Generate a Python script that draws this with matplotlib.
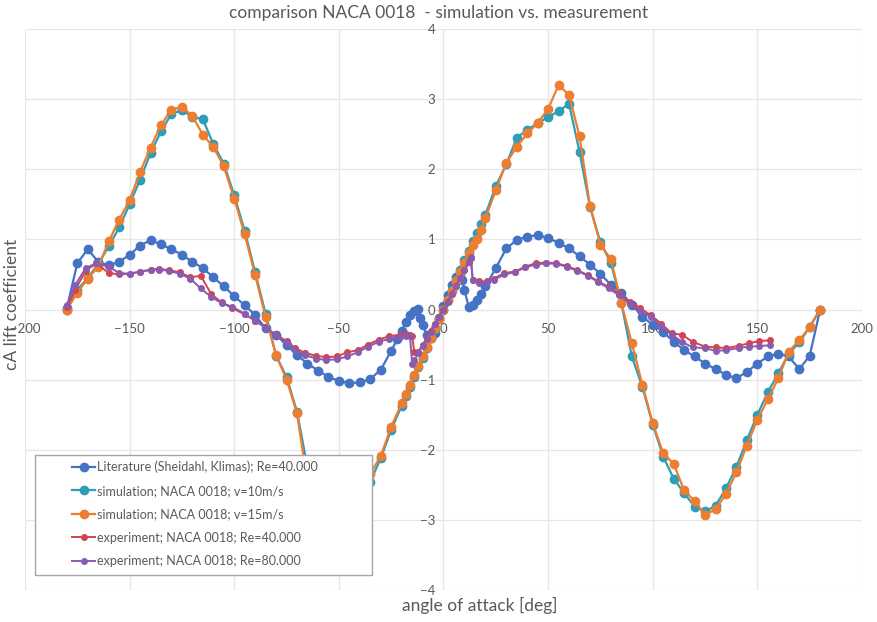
import matplotlib.pyplot as plt
from matplotlib.patches import Rectangle

# Literature (Sheidahl, Klimas); Re=40.000
lit_x = [-180, -175, -170, -165, -160, -155, -150, -145, -140, -135, -130, -125, -120, -115, -110,
         -105, -100, -95, -90, -85, -80, -75, -70, -65, -60, -55, -50, -45, -40, -35, -30, -25,
         -22, -20, -18, -16, -14, -12, -11, -10, -8, -6, -4, -2, 0, 2, 4, 6, 8, 9, 10, 12, 14,
         16, 18, 20, 25, 30, 35, 40, 45, 50, 55, 60, 65, 70, 75, 80, 85, 90, 95, 100, 105, 110,
         115, 120, 125, 130, 135, 140, 145, 150, 155, 160, 165, 170, 175, 180]
lit_y = [0.02, 0.66, 0.86, 0.68, 0.63, 0.68, 0.78, 0.91, 0.99, 0.93, 0.86, 0.78, 0.68, 0.59, 0.46,
         0.33, 0.19, 0.06, -0.08, -0.27, -0.36, -0.51, -0.65, -0.77, -0.87, -0.96, -1.02, -1.05,
         -1.04, -0.99, -0.86, -0.59, -0.42, -0.30, -0.18, -0.08, -0.02, 0.01, -0.12, -0.22, -0.36,
         -0.40, -0.33, -0.12, 0.05, 0.20, 0.35, 0.47, 0.50, 0.42, 0.28, 0.04, 0.06, 0.14, 0.22,
         0.33, 0.59, 0.87, 0.99, 1.04, 1.06, 1.02, 0.95, 0.87, 0.76, 0.64, 0.51, 0.35, 0.24, 0.07,
         -0.10, -0.22, -0.32, -0.46, -0.58, -0.67, -0.77, -0.85, -0.93, -0.98, -0.89, -0.77, -0.67,
         -0.63, -0.67, -0.85, -0.66, 0.0]

# simulations (same angles for both)
sim_x = [-180, -175, -170, -165, -160, -155, -150, -145, -140, -135, -130, -125, -120, -115, -110,
         -105, -100, -95, -90, -85, -80, -75, -70, -65, -60, -55, -50, -45, -40, -35, -30, -25,
         -20, -18, -16, -14, -12, -10, -8, -6, -4, -2, 0, 2, 4, 6, 8, 10, 12, 14, 16, 18, 20,
         25, 30, 35, 40, 45, 50, 55, 60, 65, 70, 75, 80, 85, 90, 95, 100, 105, 110, 115, 120,
         125, 130, 135, 140, 145, 150, 155, 160, 165, 170, 175, 180]
sim10_y = [0.0, 0.28, 0.45, 0.65, 0.90, 1.17, 1.50, 1.85, 2.23, 2.54, 2.79, 2.84, 2.75, 2.71, 2.36,
           2.08, 1.63, 1.12, 0.53, -0.06, -0.66, -0.96, -1.46, -2.25, -2.93, -2.83, -2.74, -2.66,
           -2.56, -2.46, -2.12, -1.72, -1.37, -1.23, -1.10, -0.96, -0.82, -0.69, -0.55, -0.41,
           -0.28, -0.14, 0.0, 0.14, 0.28, 0.42, 0.56, 0.70, 0.84, 0.97, 1.09, 1.22, 1.35, 1.76,
           2.07, 2.45, 2.56, 2.66, 2.74, 2.83, 2.93, 2.25, 1.46, 0.96, 0.66, 0.09, -0.67, -1.10,
           -1.64, -2.10, -2.41, -2.62, -2.81, -2.88, -2.80, -2.55, -2.24, -1.86, -1.50, -1.18,
           -0.91, -0.63, -0.47, -0.25, 0.0]
sim15_y = [0.0, 0.24, 0.44, 0.61, 0.97, 1.28, 1.56, 1.96, 2.31, 2.63, 2.85, 2.89, 2.76, 2.49, 2.32,
           2.04, 1.58, 1.07, 0.49, -0.11, -0.65, -1.00, -1.48, -2.47, -3.06, -3.20, -2.86, -2.66,
           -2.51, -2.34, -2.09, -1.67, -1.34, -1.20, -1.07, -0.94, -0.80, -0.67, -0.54, -0.40,
           -0.27, -0.13, 0.0, 0.13, 0.27, 0.40, 0.54, 0.67, 0.80, 0.92, 1.01, 1.13, 1.30, 1.70,
           2.09, 2.32, 2.51, 2.66, 2.86, 3.20, 3.06, 2.47, 1.48, 0.92, 0.72, 0.09, -0.48, -1.07,
           -1.62, -2.05, -2.20, -2.58, -2.73, -2.93, -2.85, -2.63, -2.32, -1.94, -1.57, -1.28,
           -0.98, -0.60, -0.44, -0.25, 0.0]

# experiments
exp_x = [-180, -176, -171, -166, -160, -155, -150, -145, -140, -136, -131, -126, -121, -116, -111,
         -106, -101, -95, -90, -85, -80, -75, -71, -66, -61, -56, -51, -46, -41, -36, -31, -26,
         -21, -18, -16, -15, -14, -12, -10, -8, -6, -4, -2, 0, 2, 4, 6, 8, 10, 12, 13, 14, 17,
         21, 24, 29, 34, 39, 44, 49, 54, 59, 64, 69, 74, 79, 84, 89, 94, 99, 104, 109, 114, 119,
         125, 130, 135, 141, 146, 151, 156]
exp40_y = [0.03, 0.28, 0.55, 0.66, 0.52, 0.50, 0.51, 0.54, 0.57, 0.58, 0.56, 0.53, 0.46, 0.48, 0.22,
           0.10, 0.02, -0.07, -0.16, -0.26, -0.36, -0.45, -0.55, -0.62, -0.66, -0.68, -0.67, -0.61,
           -0.58, -0.50, -0.43, -0.38, -0.36, -0.35, -0.36, -0.38, -0.60, -0.60, -0.50, -0.41,
           -0.31, -0.20, -0.10, 0.0, 0.11, 0.22, 0.34, 0.45, 0.56, 0.68, 0.74, 0.42, 0.40, 0.40,
           0.44, 0.52, 0.54, 0.61, 0.66, 0.67, 0.66, 0.62, 0.56, 0.49, 0.40, 0.32, 0.23, 0.11, 0.02,
           -0.08, -0.20, -0.34, -0.36, -0.46, -0.53, -0.54, -0.55, -0.52, -0.48, -0.45, -0.44]
exp80_y = [0.06, 0.35, 0.59, 0.66, 0.61, 0.52, 0.51, 0.54, 0.56, 0.57, 0.55, 0.51, 0.44, 0.30, 0.18,
           0.09, 0.04, -0.06, -0.16, -0.26, -0.37, -0.47, -0.58, -0.65, -0.70, -0.72, -0.71, -0.67,
           -0.61, -0.53, -0.46, -0.42, -0.39, -0.38, -0.38, -0.77, -0.72, -0.62, -0.52, -0.42,
           -0.32, -0.21, -0.10, 0.0, 0.11, 0.22, 0.34, 0.45, 0.56, 0.68, 0.75, 0.42, 0.38, 0.39,
           0.42, 0.50, 0.53, 0.60, 0.64, 0.66, 0.65, 0.61, 0.55, 0.48, 0.39, 0.30, 0.20, 0.08, -0.02,
           -0.10, -0.24, -0.36, -0.46, -0.54, -0.55, -0.59, -0.58, -0.55, -0.53, -0.52, -0.51]

labels = ['Literature (Sheidahl, Klimas); Re=40.000',
          'simulation; NACA 0018; v=10m/s',
          'simulation; NACA 0018; v=15m/s',
          'experiment; NACA 0018; Re=40.000',
          'experiment; NACA 0018; Re=80.000']
colors = ['#4472C4', '#2E9DB8', '#ED7D31', '#D2444E', '#8B5BB0']

plt.rcParams['font.family'] = ['Lato', 'DejaVu Sans']
txt = '#595959'

fig = plt.figure(figsize=(8.77, 6.22), dpi=100)
ax = fig.add_axes([0.0285, 0.0514, 0.9544, 0.902])

ax.plot(lit_x, lit_y, color=colors[0], marker='o', ms=6, lw=1.6, label=labels[0], zorder=3)
ax.plot(sim_x, sim10_y, color=colors[1], marker='o', ms=6, lw=1.6, label=labels[1], zorder=4)
ax.plot(sim_x, sim15_y, color=colors[2], marker='o', ms=6, lw=1.6, label=labels[2], zorder=5)
ax.plot(exp_x, exp40_y, color=colors[3], marker='o', ms=4, lw=1.4, label=labels[3], zorder=6)
ax.plot(exp_x, exp80_y, color=colors[4], marker='o', ms=4, lw=1.4, label=labels[4], zorder=7)

ax.set_xlim(-200, 200)
ax.set_ylim(-4, 4)
ax.set_xticks(range(-200, 201, 50))
ax.set_yticks(range(-4, 5))
ax.grid(True, color='#E6E6E6', lw=0.9)
ax.set_axisbelow(True)

# axes cross at the origin, no visible spine lines
for s in ['left', 'bottom']:
    ax.spines[s].set_position('zero')
    ax.spines[s].set_color('none')
for s in ['top', 'right']:
    ax.spines[s].set_color('none')
ax.tick_params(length=0, labelsize=9.5, labelcolor=txt)
ax.tick_params(axis='x', pad=10)
ax.tick_params(axis='y', pad=6)

fig.text(0.5, 0.979, 'comparison NACA 0018  - simulation vs. measurement',
         ha='center', va='center', fontsize=12.5, color=txt)
fig.text(0.547, 0.027, 'angle of attack [deg]', ha='center', va='center', fontsize=12.5, color=txt)
fig.text(0.014, 0.511, 'cA lift coefficient', ha='center', va='center', rotation=90,
         fontsize=12.5, color=txt)

# legend box (drawn separately so it can be wider than its content, like the original)
box = Rectangle((35 / 877, 1 - 575 / 622), 337 / 877, 120 / 622, transform=fig.transFigure,
                facecolor='white', edgecolor='#A6A6A6', lw=1.0, zorder=10)
ax.add_patch(box)
leg = ax.legend(loc='center left', bbox_to_anchor=(72 / 877, 1 - 514 / 622),
                bbox_transform=fig.transFigure, frameon=False,
                fontsize=9, labelspacing=0.92, handlelength=1.84, handletextpad=0.15,
                borderpad=0, borderaxespad=0)
leg.set_zorder(11)
for t in leg.get_texts():
    t.set_color(txt)

fig.savefig('out.png', dpi=100)
